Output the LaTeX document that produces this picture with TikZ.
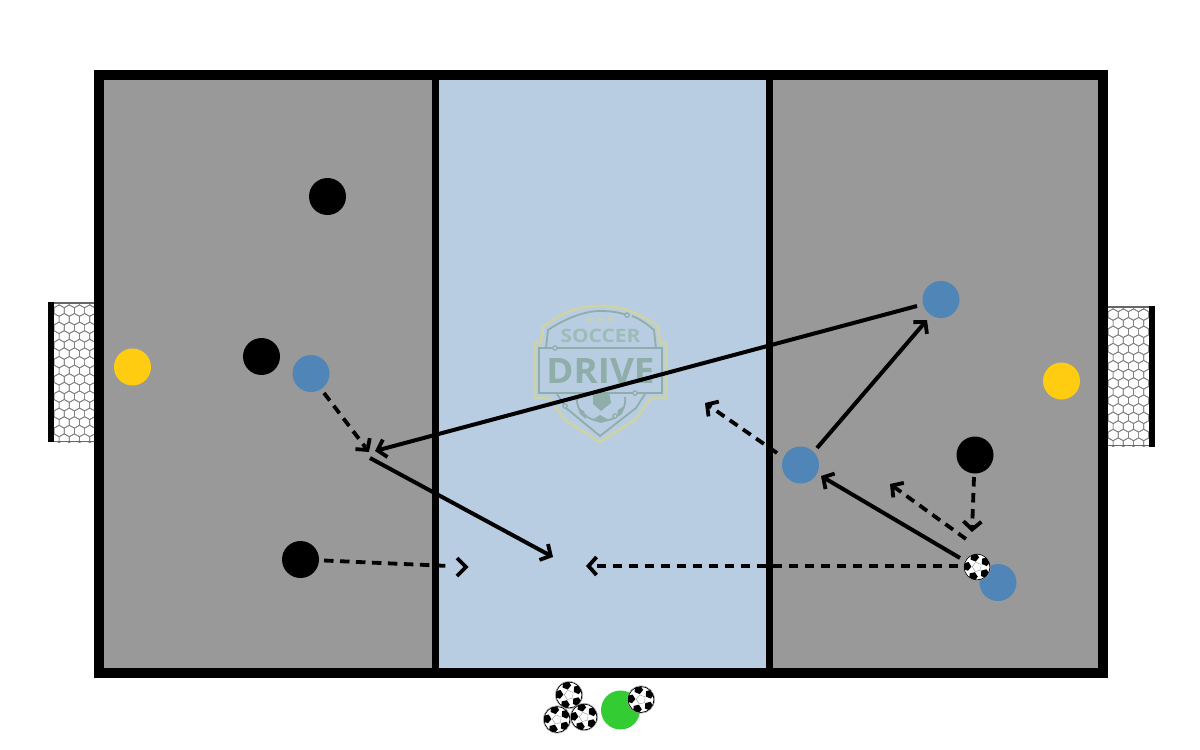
\documentclass[tikz,border=0pt]{standalone}
\usepackage{fontspec}
\setmainfont{Liberation Sans}
\newfontfamily\logofont{Open Sans}
\usetikzlibrary{arrows.meta,calc}
\definecolor{pitchgray}{HTML}{999999}
\definecolor{midblue}{HTML}{B8CDE2}
\definecolor{playerblue}{HTML}{5085B8}
\definecolor{keeper}{HTML}{FFCC11}
\definecolor{coachgreen}{HTML}{33CC33}
\definecolor{logoyellow}{HTML}{CDD3A9}
\definecolor{logoteal}{HTML}{8FAEAA}
\definecolor{logotealb}{HTML}{9DBBB7}
\tikzset{
  x=1pt,y=-1pt,
  player/.style={circle,inner sep=0pt,minimum size=37pt,fill=#1},
  solidrun/.style={line width=4pt,-{Straight Barb[length=8pt,width=18pt,line width=3.8pt]}},
  dashrun/.style={line width=3.8pt,dash pattern=on 9.5pt off 6.5pt,-{Straight Barb[length=8pt,width=18pt,line width=3.8pt]}},
  dashplain/.style={line width=3.8pt,dash pattern=on 9.5pt off 6.5pt},
  chevron/.style={line width=3.8pt,line join=miter},
  netline/.style={draw=black!50,line width=0.7pt},
  logoline/.style={draw=logoteal,line width=1.8pt,fill=none},
  logodot/.style={draw=logoteal,line width=1.2pt,fill=midblue},
  pics/soccerball/.style={code={
    \fill[white] (0,0) circle (13);
    \begin{scope}
      \clip (0,0) circle (13);
      \foreach \a in {40,112,184,256,328}{
        \fill[black] ($(\a:10.2)+(\a+180:4.6)$) -- ($(\a:10.2)+(\a+252:4.6)$) -- ($(\a:10.2)+(\a+324:4.6)$) -- ($(\a:10.2)+(\a+36:4.6)$) -- ($(\a:10.2)+(\a+108:4.6)$) -- cycle;
        \draw[black!50,line width=0.3pt] (\a:4.8) -- (\a+72:4.8);
      }
    \end{scope}
    \draw[black,line width=0.8pt] (0,0) circle (13);
    \draw[black!40,line width=0.5pt] (0,0) circle (13.7);
  }}
}
\newcommand{\hexnet}[4]{% x0 y0 x1 y1
  \begin{scope}
    \clip (#1,#2) rectangle (#3,#4);
    \fill[white] (#1,#2) rectangle (#3,#4);
    \foreach \c in {0,...,5}{
      \foreach \r in {0,...,17}{
        \pgfmathsetmacro{\hx}{#1+\c*10.2-(mod(\r,2)*5.1)}
        \pgfmathsetmacro{\hy}{#2+\r*8.6}
        \draw[netline] (\hx,\hy-5.6) -- (\hx+5.1,\hy-2.8) -- (\hx+5.1,\hy+2.8) -- (\hx,\hy+5.6) -- (\hx-5.1,\hy+2.8) -- (\hx-5.1,\hy-2.8) -- cycle;
      }
    }
  \end{scope}
}
\begin{document}
\begin{tikzpicture}
\useasboundingbox (0,0) rectangle (1200,750);
% goals
\hexnet{54}{302}{96}{442}
\draw[black!60,line width=1.6pt] (48,302.8) -- (96,302.8);
\draw[black!60,line width=1.6pt] (48,441.6) -- (96,441.6);
\fill[black] (48,302) rectangle (54,442);
\hexnet{1108}{306}{1149}{446}
\draw[black!60,line width=1.6pt] (1108,306.8) -- (1154,306.8);
\draw[black!60,line width=1.6pt] (1108,445.6) -- (1154,445.6);
\fill[black] (1149,306) rectangle (1155,446.5);
% field
\fill[pitchgray] (99,75) rectangle (1103,673);
\fill[midblue] (435,75) rectangle (769,673);
% logo
\draw[draw=logoyellow,line width=2.8pt,line join=round] (600,306) .. controls (575,306) and (558,315) .. (543,327) -- (541,343) -- (535,343) -- (535,398) -- (549,398) -- (565,420) -- (600,442) -- (635,420) -- (651,398) -- (666,398) -- (666,343) -- (660,343) -- (658,327) .. controls (643,315) and (625,306) .. (600,306);
\draw[logoline] (627,315) .. controls (618,312) and (610,311) .. (600,311) .. controls (585,311) and (566,318) .. (548,330) -- (546,348);
\draw[logoline] (632,316) .. controls (640,319) and (647,324) .. (654,330) -- (656,348);
\draw[logoline] (557,394) -- (566,408) -- (600,436) -- (636,408) -- (645,394);
\draw[logoline] (539,348) rectangle (662,393);
\node[inner sep=0pt] (logostars) at (600,320) {\color{logoyellow}\fontspec{DejaVu Sans}\fontsize{10}{10}\selectfont ★\,★\,★};
\node[inner sep=0pt,xscale=1.13,transform shape] (logosoccer) at (600.5,336) {\logofont\bfseries\fontsize{18.5}{18.5}\selectfont\color{logotealb}SOCCER};
\node[inner sep=0pt,xscale=1.05,transform shape] (logodrive) at (600.5,371) {\logofont\bfseries\fontsize{35}{35}\selectfont\color{logoteal}DRIVE};
\draw[logoline] (577,397) .. controls (575,412) and (590,421) .. (601,421) .. controls (615,421) and (627,412) .. (625,397);
\fill[logoteal] (593,395) -- (609,392) -- (611,403) -- (601,411) -- (593,404) -- cycle;
\fill[logoteal] (578,408) -- (584,411) -- (586,419) -- (580,414) -- cycle;
\fill[logoteal] (592,420) -- (600,415) -- (609,420) -- (601,423) -- cycle;
\fill[logoteal] (624,406) -- (618,410) -- (617,417) -- (622,414) -- cycle;
\draw[logodot] (627,315) circle (2.2);
\draw[logodot] (555,348) circle (2.2);
\draw[logodot] (635,393) circle (2.2);
\draw[logodot] (565,406) circle (2.2);
\draw[logodot] (615,416) circle (2.2);
% field lines
\draw[black,line width=10pt,miter limit=10] (99,75) rectangle (1103,673);
\draw[black,line width=7pt] (435,75) -- (435,673);
\draw[black,line width=7pt] (769.5,75) -- (769.5,673);
% players
\node[player=black] (b1) at (327.5,196.5) {};
\node[player=black] (b2) at (261.5,356.5) {};
\node[player=black] (b3) at (300.5,559.5) {};
\node[player=black] (b4) at (975,455) {};
\node[player=keeper] (y1) at (132.5,367) {};
\node[player=keeper] (y2) at (1061.5,381) {};
\node[player=playerblue] (p1) at (311,373.5) {};
\node[player=playerblue] (p2) at (941,299.5) {};
\node[player=playerblue] (p3) at (800.5,465) {};
\node[player=playerblue] (p4) at (998,582.5) {};
\node[circle,inner sep=0pt,minimum size=39pt,fill=coachgreen] (coach) at (620.5,710) {};
% balls
\pic at (977,567) {soccerball};
\pic at (569,695) {soccerball};
\pic at (557,719.5) {soccerball};
\pic at (584,717) {soccerball};
\pic at (641,699.5) {soccerball};
% arrow ends
\coordinate (a1) at (375,451);
\coordinate (a2) at (369,452);
\coordinate (s3) at (370,458);
\coordinate (a3) at (553,557);
\coordinate (a4) at (449,566);
\coordinate (tip4) at (466,567);
\coordinate (c4a) at (457,558);
\coordinate (c4b) at (457,576);
\coordinate (a5) at (586,566);
\coordinate (a6) at (821,476);
\coordinate (a7) at (927,320);
\coordinate (a8) at (705,403);
\coordinate (a9) at (890,484);
\coordinate (a10) at (972,532);
\coordinate (s1) at (917,306);
\coordinate (s2) at (324,393);
\coordinate (s4) at (324,560.5);
\coordinate (s5) at (958,566);
\coordinate (s6) at (960,558);
\coordinate (s7) at (817,448);
\coordinate (s8) at (777,453);
\coordinate (s9) at (966,539);
\coordinate (s10) at (974,477);
\draw[solidrun] (s1) -- (a1);
\draw[dashrun] (s2) -- (a2);
\draw[solidrun] (s3) -- (a3);
\draw[dashplain] (s4) -- (a4);
\draw[chevron] (c4a) -- (tip4) -- (c4b);
\draw[dashrun] (s5) -- (a5);
\draw[solidrun] (s6) -- (a6);
\draw[solidrun] (s7) -- (a7);
\draw[dashrun] (s8) -- (a8);
\draw[dashrun] (s9) -- (a9);
\draw[dashrun] (s10) -- (a10);
\end{tikzpicture}
\end{document}
